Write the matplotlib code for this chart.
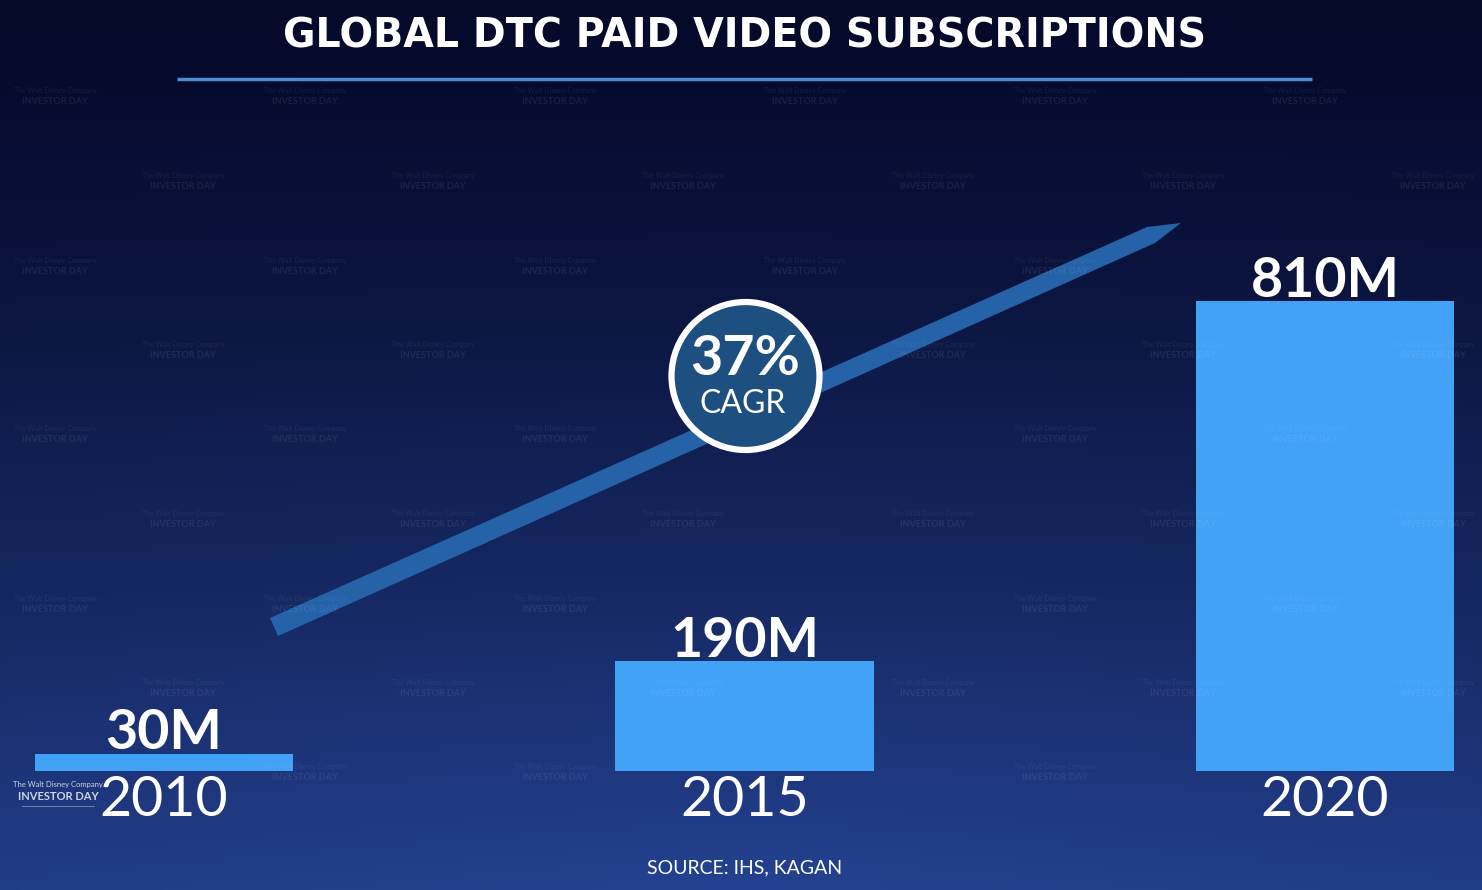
import numpy as np
import matplotlib
matplotlib.use("Agg")
import matplotlib.pyplot as plt
from matplotlib.patches import Polygon, Circle

# data
years = ["2010", "2015", "2020"]
subs = [30, 190, 810]          # millions
value_labels = ["30M", "190M", "810M"]
cagr_text = "37%"
title = "GLOBAL DTC PAID VIDEO SUBSCRIPTIONS"
source = "SOURCE: IHS, KAGAN"

W, H = 1482, 890
FONT = "Lato"
TITLE_FONT = "DejaVu Sans"
bar_color = "#42a2f5"

fig = plt.figure(figsize=(W / 100, H / 100), dpi=100)

# background gradient (dark navy at top -> blue at bottom)
bg = fig.add_axes([0, 0, 1, 1], zorder=0)
yy, xx = np.mgrid[0:1:300j, 0:1:500j]
t = yy ** 1.3 * 0.85 + 0.15 * np.clip(1 - np.hypot((xx - 0.5) * 1.2, (yy - 1.0)), 0, 1) * yy
top = np.array([5, 9, 42]) / 255
bottom = np.array([36, 66, 145]) / 255
img = top + (bottom - top) * t[..., None]
bg.imshow(img, extent=[0, W, H, 0], aspect="auto", interpolation="bilinear")
bg.set_xlim(0, W)
bg.set_ylim(H, 0)
bg.axis("off")

main_texts = []

# bars
ax = fig.add_axes([0, 119 / H, 1, 771 / H], zorder=1)
ax.patch.set_alpha(0)
x = np.arange(len(years))
ax.bar(x, subs, width=0.445, color=bar_color)
ax.set_xlim(-164 / 580.5, (W - 164) / 580.5)
ax.set_ylim(0, 810 * 771 / 470)
for xi, v, lab, yr in zip(x, subs, value_labels, years):
    main_texts.append(ax.annotate(lab, (xi, v), xytext=(0, -3.5), textcoords="offset points",
                                  ha="center", va="bottom", color="white", fontsize=40,
                                  fontweight="bold", family=FONT))
    main_texts.append(ax.annotate(yr, (xi, 0), xytext=(0, -3), textcoords="offset points",
                                  ha="center", va="top", color="white", fontsize=40,
                                  family=FONT))
ax.axis("off")

# overlay for decorations, pixel coordinates
ov = fig.add_axes([0, 0, 1, 1], zorder=2)
ov.patch.set_alpha(0)
ov.set_xlim(0, W)
ov.set_ylim(H, 0)
ov.axis("off")

# faint watermark grid
marks = []
for r, wy in enumerate(np.arange(100, 800, 84.5)):
    off = 55 if r % 2 == 0 else 183
    for wx in np.arange(off, W + 60, 250):
        a = ov.text(wx, wy - 9, "The Walt Disney Company", color="white", alpha=0.07,
                    fontsize=5, ha="center", va="center", family=FONT)
        b = ov.text(wx, wy + 2, "INVESTOR DAY", color="white", alpha=0.08,
                    fontsize=6.5, fontweight="bold", ha="center", va="center", family=FONT)
        marks.append((a, b))

main_texts.append(ov.text(745, 37, title, color="white", fontsize=28.5, fontweight="bold",
                          ha="center", va="center", family=TITLE_FONT))
ov.plot([177, 1312], [79, 79], color="#4a8cd2", lw=2.5, solid_capstyle="butt")

arrow = Polygon([(270, 618), (1147, 227), (1181, 223), (1155, 243), (278, 636)],
                closed=True, facecolor="#2562a8", edgecolor="none")
ov.add_patch(arrow)
circ = Circle((745.5, 376), 74, facecolor="#1d4f80", edgecolor="white", lw=4.5)
ov.add_patch(circ)
main_texts.append(ov.text(745, 359, cagr_text, color="white", fontsize=40, fontweight="bold",
                          ha="center", va="center", family=FONT))
main_texts.append(ov.text(743, 404, "CAGR", color="white", fontsize=23, ha="center",
                          va="center", family=FONT))

main_texts.append(ov.text(745, 868, source, color="white", fontsize=14, ha="center",
                          va="center", family=FONT))

# corner logo
logo1 = ov.text(58, 784, "The Walt Disney Company", color="#d0d4e0", fontsize=5.5,
                ha="center", va="center", family=FONT)
logo2 = ov.text(58, 797, "INVESTOR DAY", color="#d0d4e0", fontsize=8, fontweight="bold",
                ha="center", va="center", family=FONT)
main_texts += [logo1, logo2]
ov.plot([22, 94], [806, 806], color="#8090b0", lw=0.6)

# drop watermarks hidden behind the foreground texts
fig.canvas.draw()
r = fig.canvas.get_renderer()
boxes = [tx.get_window_extent(r).expanded(1.05, 1.1) for tx in main_texts]
boxes.append(circ.get_window_extent(r))
for a, b in marks:
    wb = [a.get_window_extent(r), b.get_window_extent(r)]
    if any(w.overlaps(bx) for w in wb for bx in boxes):
        a.remove()
        b.remove()

fig.savefig("out.png", dpi=100)
